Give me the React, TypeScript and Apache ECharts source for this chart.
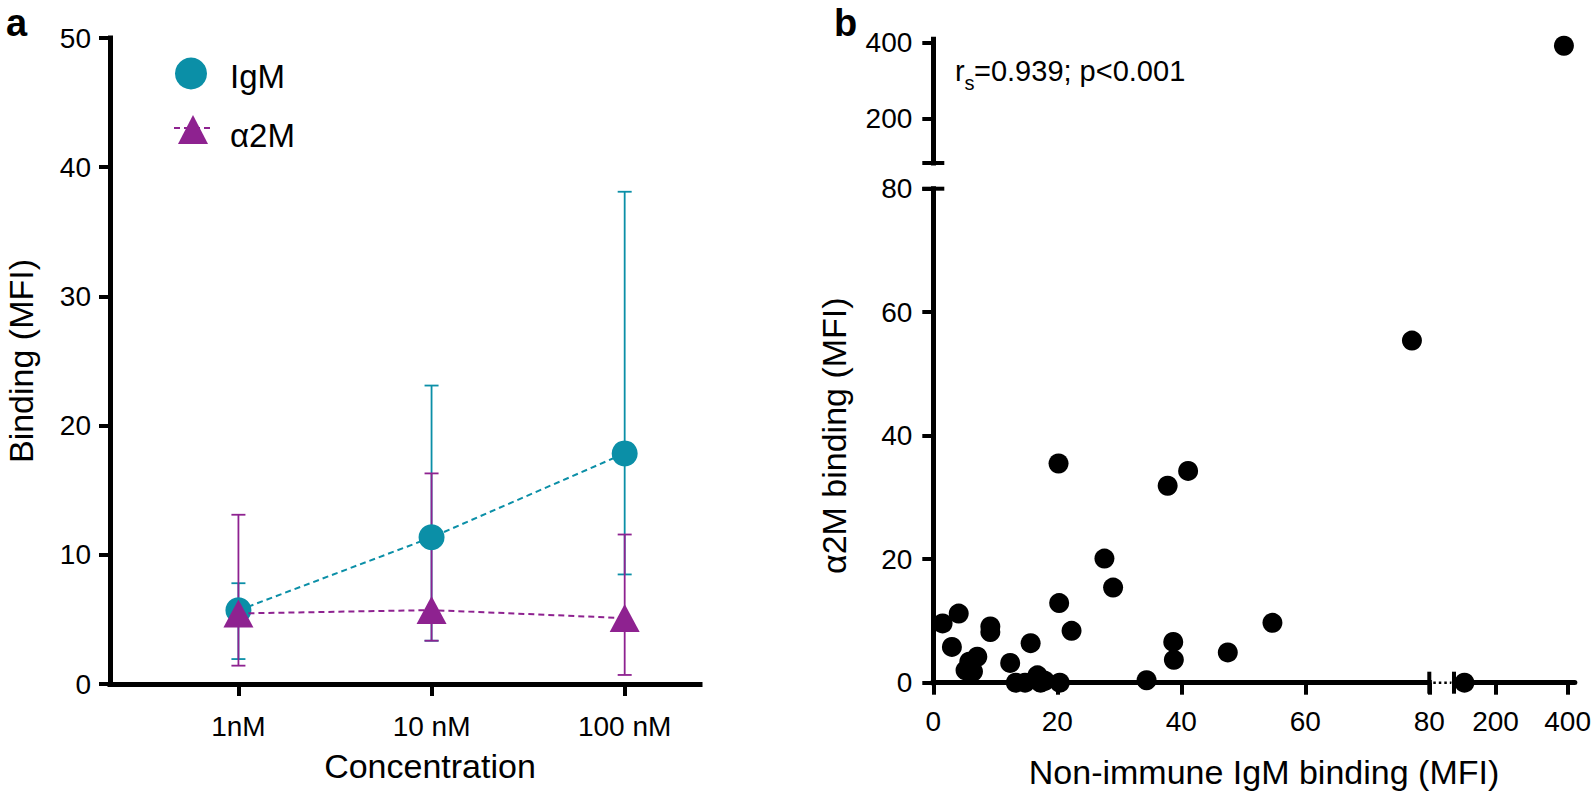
import React, { useEffect, useRef } from "react";
import * as echarts from "echarts";

// ---------- Panel a data ----------
const concentrations = ["1nM", "10 nM", "100 nM"];
const concPos = [1, 2, 3];
const igmMean = [5.7, 11.35, 17.85];
const igmLow = [1.93, 3.35, 8.48];
const igmHigh = [7.8, 23.1, 38.1];
const a2mMean = [5.46, 5.72, 5.1];
const a2mLow = [1.42, 3.35, 0.7];
const a2mHigh = [13.1, 16.3, 11.57];

// ---------- Panel b data ----------
const nonImmuneIgM = [
  1.5, 4.1, 3.0, 9.2, 9.2, 7.1, 5.8, 5.2, 6.4, 12.4, 15.7, 13.3, 14.8, 16.8, 17.3,
  18.0, 20.4, 20.2, 20.3, 22.3, 27.6, 29.0, 34.4, 37.8, 41.1, 38.7, 38.8, 47.5, 54.7,
  77.2, 114, 382,
];
const a2mBinding = [
  9.6, 11.2, 5.8, 9.1, 8.2, 4.2, 3.4, 2.0, 1.8, 3.2, 6.4, 0, 0, 1.2, 0,
  0.3, 0, 35.5, 12.9, 8.4, 20.1, 15.4, 0.4, 31.9, 34.3, 6.6, 3.7, 4.9, 9.7,
  55.4, 0, 392,
];
const highTicks = [200, 400];
const lowRange = [0, 80];
const highRangeX = [85, 420];
const highRangeY = [82, 409];
const annotation = "=0.939; p<0.001";

const TEAL = "#0B8FA7";
const PURPLE = "#8E2290";
const FONT = '"Liberation Sans", Arial, Helvetica, sans-serif';

// ---------- layout (pixels) ----------
const A = { l: 110, t: 38, r: 700, b: 684 };
const B = { x0: 933.3, x1: 1429.3, xr0: 1454, xr1: 1578, yb: 682.7, yt: 188.7, yu0: 39.3, yu1: 163 };

export default function App() {
  const ref = useRef<HTMLDivElement>(null);

  useEffect(() => {
    if (!ref.current) return;
    const chart = echarts.init(ref.current, undefined, { renderer: "svg" });

    const axisLine = { show: true, lineStyle: { color: "#000", width: 5, cap: "square" as const } };
    const tick = (len: number) => ({ show: true, length: len, lineStyle: { color: "#000", width: 4 } });
    const lbl = (size: number, margin: number) => ({
      show: true, color: "#000", fontFamily: FONT, fontSize: size, margin,
    });

    const errorSeries = (low: number[], high: number[], color: string) => ({
      type: "custom",
      xAxisIndex: 0,
      yAxisIndex: 0,
      silent: true,
      clip: false,
      data: concPos.map((x, i) => [x, low[i], high[i]]),
      renderItem: (_p: any, api: any) => {
        const x = api.value(0);
        const lo = api.coord([x, api.value(1)]);
        const hi = api.coord([x, api.value(2)]);
        const w = 7;
        const style = { stroke: color, lineWidth: 1.8, fill: "none" };
        return {
          type: "group",
          children: [
            { type: "line", shape: { x1: lo[0], y1: lo[1], x2: hi[0], y2: hi[1] }, style },
            { type: "line", shape: { x1: lo[0] - w, y1: lo[1], x2: lo[0] + w, y2: lo[1] }, style },
            { type: "line", shape: { x1: hi[0] - w, y1: hi[1], x2: hi[0] + w, y2: hi[1] }, style },
          ],
        };
      },
    });

    const ptsLow: number[][] = [];
    const ptsRight: number[][] = [];
    const ptsTop: number[][] = [];
    nonImmuneIgM.forEach((x, i) => {
      const y = a2mBinding[i];
      if (y > lowRange[1]) ptsTop.push([x, y]);
      else if (x > lowRange[1]) ptsRight.push([x, y]);
      else ptsLow.push([x, y]);
    });

    const dot = (data: number[][], idx: number) => ({
      type: "scatter",
      xAxisIndex: idx,
      yAxisIndex: idx,
      data,
      symbol: "circle",
      symbolSize: 20,
      clip: false,
      itemStyle: { color: "#000", opacity: 1 },
      z: 5,
    });

    const capStyle = { stroke: "#000", lineWidth: 4 };
    const central = 0.3465;
    const TITLE = 34;

    chart.setOption({
      animation: false,
      backgroundColor: "#fff",
      grid: [
        { left: A.l, top: A.t, width: A.r - A.l, height: A.b - A.t },
        { left: B.x0, top: B.yt, width: B.x1 - B.x0, height: B.yb - B.yt },
        { left: B.xr0, top: B.yt, width: B.xr1 - B.xr0, height: B.yb - B.yt },
        { left: B.x0, top: B.yu0, width: B.x1 - B.x0, height: B.yu1 - B.yu0 },
        { left: B.xr0, top: B.yu0, width: B.xr1 - B.xr0, height: B.yu1 - B.yu0 },
      ],
      xAxis: [
        {
          gridIndex: 0, type: "value", min: 0.335, max: 3.39,
          axisLine, splitLine: { show: false },
          axisTick: { ...tick(12), customValues: concPos },
          axisLabel: {
            ...lbl(28, 28), customValues: concPos,
            formatter: (v: number) => concentrations[concPos.indexOf(v)] ?? "",
          },
        },
        {
          gridIndex: 1, type: "value", min: lowRange[0], max: lowRange[1], interval: 20,
          axisLine, splitLine: { show: false }, axisTick: tick(12), axisLabel: lbl(28, 25),
        },
        {
          gridIndex: 2, type: "value", min: highRangeX[0], max: highRangeX[1],
          axisLine: { show: true, lineStyle: { color: "#000", width: 5, cap: "round" as const } },
          splitLine: { show: false },
          axisTick: { ...tick(12), customValues: highTicks },
          axisLabel: { ...lbl(28, 25), customValues: highTicks },
        },
        { gridIndex: 3, type: "value", min: lowRange[0], max: lowRange[1], show: false },
        { gridIndex: 4, type: "value", min: highRangeX[0], max: highRangeX[1], show: false },
      ],
      yAxis: [
        {
          gridIndex: 0, type: "value", min: 0, max: 50, interval: 10,
          axisLine, splitLine: { show: false }, axisTick: tick(11), axisLabel: lbl(28, 19),
        },
        {
          gridIndex: 1, type: "value", min: lowRange[0], max: lowRange[1], interval: 20,
          axisLine, splitLine: { show: false }, axisTick: tick(11), axisLabel: lbl(28, 21),
        },
        { gridIndex: 2, type: "value", min: lowRange[0], max: lowRange[1], show: false },
        {
          gridIndex: 3, type: "value", min: highRangeY[0], max: highRangeY[1],
          axisLine, splitLine: { show: false },
          axisTick: { ...tick(11), customValues: highTicks },
          axisLabel: { ...lbl(28, 21), customValues: highTicks },
        },
        { gridIndex: 4, type: "value", min: highRangeY[0], max: highRangeY[1], show: false },
      ],
      series: [
        errorSeries(igmLow, igmHigh, TEAL),
        errorSeries(a2mLow, a2mHigh, PURPLE),
        {
          type: "line", xAxisIndex: 0, yAxisIndex: 0,
          data: concPos.map((x, i) => [x, igmMean[i]]),
          symbol: "circle", symbolSize: 26,
          lineStyle: { color: TEAL, width: 2, type: [6, 4] },
          itemStyle: { color: TEAL, opacity: 1 },
          z: 3,
        },
        {
          type: "line", xAxisIndex: 0, yAxisIndex: 0,
          data: concPos.map((x, i) => [x, a2mMean[i]]),
          symbol: "triangle", symbolSize: [30, 28],
          lineStyle: { color: PURPLE, width: 2, type: [6, 4] },
          itemStyle: { color: PURPLE, opacity: 1 },
          z: 4,
        },
        dot(ptsLow, 1),
        dot(ptsRight, 2),
        dot(ptsTop, 4),
      ],
      graphic: [
        // panel letters
        { type: "text", x: 6, y: 36 - central * 38, style: { text: "a", font: `bold 38px ${FONT}`, fill: "#000", verticalAlign: "middle" } },
        { type: "text", x: 834, y: 36 - central * 38, style: { text: "b", font: `bold 38px ${FONT}`, fill: "#000", verticalAlign: "middle" } },
        // legend
        { type: "circle", shape: { cx: 191, cy: 73.5, r: 16 }, style: { fill: TEAL } },
        { type: "text", x: 230, y: 87.5 - central * 33, style: { text: "IgM", font: `33px ${FONT}`, fill: "#000", verticalAlign: "middle" } },
        { type: "line", shape: { x1: 174, y1: 128, x2: 212, y2: 128 }, style: { stroke: PURPLE, lineWidth: 2, lineDash: [6, 4] } },
        { type: "polygon", shape: { points: [[193, 115], [208, 144], [178, 144]] }, style: { fill: PURPLE } },
        { type: "text", x: 230, y: 146.5 - central * 33, style: { text: "α2M", font: `33px ${FONT}`, fill: "#000", verticalAlign: "middle" } },
        // axis titles
        { type: "text", x: 21, y: (A.t + A.b) / 2, rotation: Math.PI / 2, style: { text: "Binding (MFI)", font: `${TITLE}px ${FONT}`, fill: "#000", align: "center", verticalAlign: "middle" } },
        { type: "text", x: 430, y: 778 - central * TITLE, style: { text: "Concentration", font: `${TITLE}px ${FONT}`, fill: "#000", align: "center", verticalAlign: "middle" } },
        { type: "text", x: 834, y: (B.yt + B.yb) / 2, rotation: Math.PI / 2, style: { text: "α2M binding (MFI)", font: `${TITLE}px ${FONT}`, fill: "#000", align: "center", verticalAlign: "middle" } },
        { type: "text", x: 1264, y: 784 - central * TITLE, style: { text: "Non-immune IgM binding (MFI)", font: `${TITLE}px ${FONT}`, fill: "#000", align: "center", verticalAlign: "middle" } },
        // annotation
        { type: "text", x: 955, y: 81 - central * 29, style: { text: "r", font: `29px ${FONT}`, fill: "#000", verticalAlign: "middle" } },
        { type: "text", x: 964.5, y: 89.5 - central * 20, style: { text: "s", font: `20px ${FONT}`, fill: "#000", verticalAlign: "middle" } },
        { type: "text", x: 974, y: 81 - central * 29, style: { text: annotation, font: `29px ${FONT}`, fill: "#000", verticalAlign: "middle" } },
        // axis break caps
        { type: "line", shape: { x1: B.x0 - 11, y1: B.yt, x2: B.x0 + 11, y2: B.yt }, style: capStyle },
        { type: "line", shape: { x1: B.x0 - 11, y1: B.yu1, x2: B.x0 + 11, y2: B.yu1 }, style: capStyle },
        { type: "line", shape: { x1: B.x1, y1: B.yb - 11, x2: B.x1, y2: B.yb + 11 }, style: capStyle },
        { type: "line", shape: { x1: B.xr0, y1: B.yb - 11, x2: B.xr0, y2: B.yb + 11 }, style: capStyle },
        { type: "line", shape: { x1: B.x1 + 4, y1: B.yb, x2: B.xr0 - 3, y2: B.yb }, style: { stroke: "#000", lineWidth: 2.5, lineDash: [2.5, 3] } },
      ],
    });

    return () => chart.dispose();
  }, []);

  return (
    <div
      ref={ref}
      style={{ position: "absolute", left: 0, top: 0, width: 1594, height: 795, background: "#fff" }}
    />
  );
}
